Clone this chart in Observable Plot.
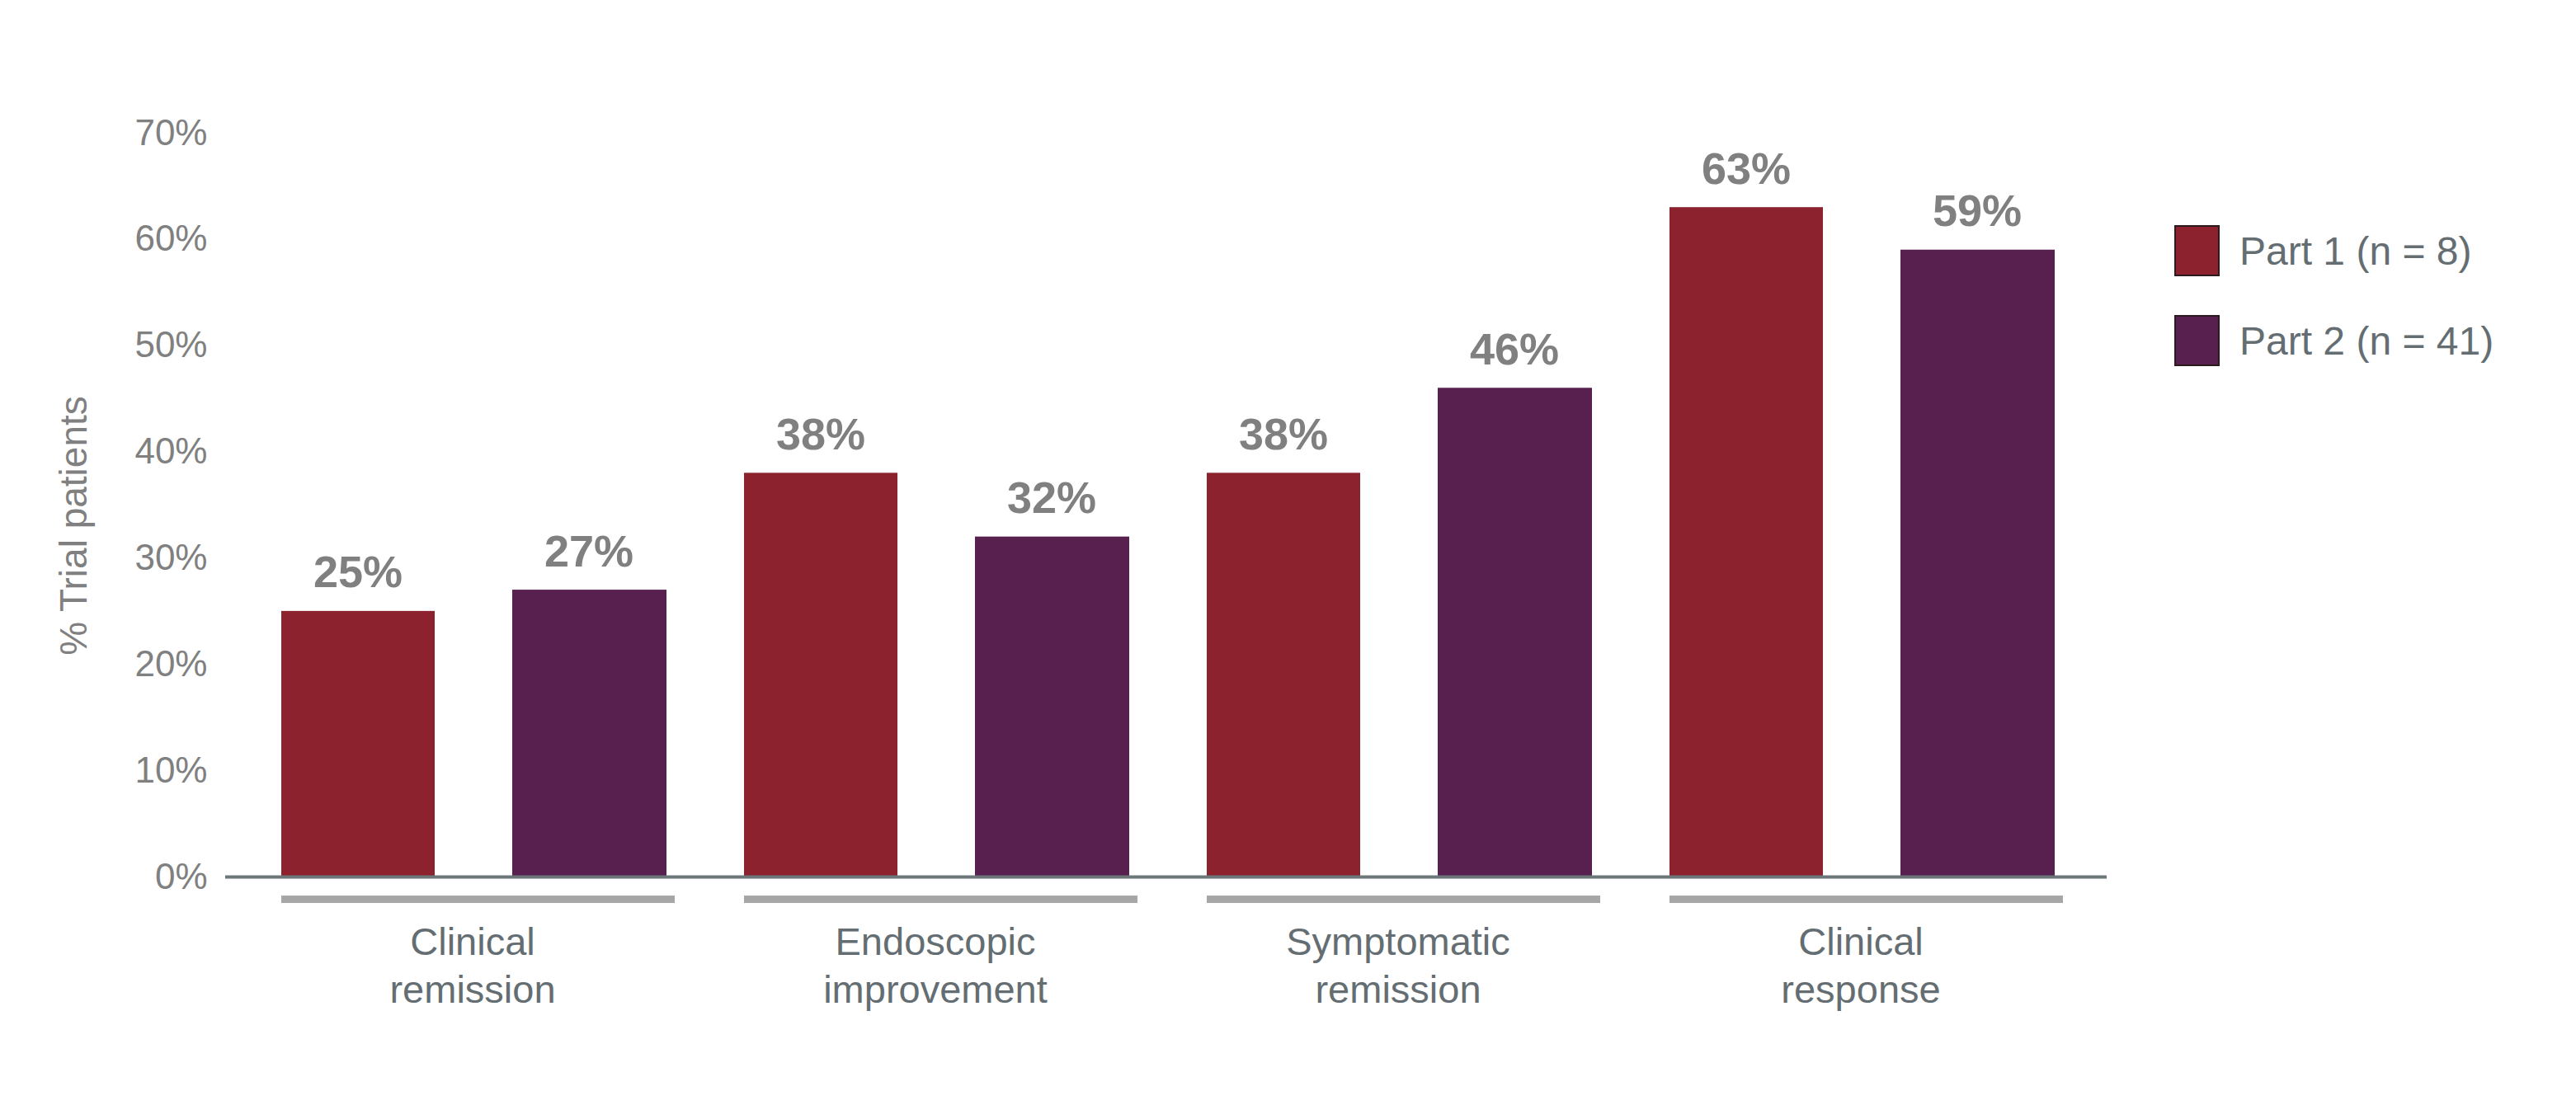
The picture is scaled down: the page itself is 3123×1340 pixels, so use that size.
<!DOCTYPE html>
<html>
<head>
<meta charset="utf-8">
<script src="https://cdn.jsdelivr.net/npm/d3@7"></script>
<script src="https://cdn.jsdelivr.net/npm/@observablehq/plot@0.6"></script>
<style>
  html, body { margin: 0; padding: 0; background: #ffffff; }
  #chart { position: relative; width: 3123px; height: 1340px; font-family: "Liberation Sans", Arial, sans-serif; }
  #legend { position: absolute; left: 2636px; top: 273px; }
  .item { display: flex; align-items: center; height: 62px; margin-bottom: 47px; }
  .swatch { width: 51px; height: 58px; border: 2px solid #2b1a1e; margin-right: 24px; }
  .label { font-size: 48px; color: #646e72; white-space: nowrap; }
</style>
</head>
<body>
<div id="chart"><div id="legend"></div></div>
<script>
// Outcome categories (two-line labels) and the two trial parts
const categories = ["Clinical\nremission", "Endoscopic\nimprovement", "Symptomatic\nremission", "Clinical\nresponse"];
const series = ["Part 1 (n = 8)", "Part 2 (n = 41)"];
const part1 = [25, 38, 38, 63];
const part2 = [27, 32, 46, 59];
const yTicks = [0, 10, 20, 30, 40, 50, 60, 70];
const colors = ["#8b222e", "#57204e"];
const yTitle = "% Trial patients";

const rows1 = categories.map((c, i) => ({category: c, series: series[0], value: part1[i]}));
const rows2 = categories.map((c, i) => ({category: c, series: series[1], value: part2[i]}));

const valueLabel = {
  x: "category",
  y: "value",
  text: d => `${d.value}%`,
  lineAnchor: "bottom",
  dy: -29,
  fontSize: 54,
  fontWeight: "bold",
  fill: "#808080"
};

const chart = Plot.plot({
  width: 3123,
  height: 1340,
  marginLeft: 273,
  marginRight: 569,
  marginTop: 161,
  marginBottom: 277,
  style: {fontFamily: "'Liberation Sans', Arial, sans-serif", background: "#ffffff"},
  x: {type: "band", domain: categories, paddingInner: 0, paddingOuter: 0.03},
  y: {domain: [0, 70]},
  color: {domain: series, range: colors},
  marks: [
    Plot.barY(rows1, {x: "category", y: "value", fill: "series", insetLeft: 49, insetRight: 326}),
    Plot.barY(rows2, {x: "category", y: "value", fill: "series", insetLeft: 329, insetRight: 45}),
    Plot.text(rows1, {...valueLabel, dx: -139}),
    Plot.text(rows2, {...valueLabel, dx: 141}),
    Plot.ruleY([0], {stroke: "#6b7778", strokeWidth: 4}),
    Plot.tickY(categories, {x: d => d, y: () => 0, dy: 27, stroke: "#a6a6a6", strokeWidth: 9, insetLeft: 49, insetRight: 35}),
    Plot.axisY({ticks: yTicks, tickFormat: d => `${d}%`, tickSize: 0, tickPadding: 22, fontSize: 44, color: "#808080", label: null}),
    Plot.axisX({tickSize: 0, tickPadding: 54, fontSize: 47, lineHeight: 1.22, color: "#646e72", label: null}),
    Plot.text([yTitle], {frameAnchor: "left", textAnchor: "middle", rotate: -90, dx: -183, dy: 25, fontSize: 46, fill: "#808080"})
  ]
});

const root = document.getElementById("chart");
root.insertBefore(chart, root.firstChild);

// Legend: one row per trial part
const legend = d3.select("#legend");
series.forEach((s, i) => {
  const item = legend.append("div").attr("class", "item");
  item.append("div").attr("class", "swatch").style("background", colors[i]);
  item.append("div").attr("class", "label").text(s);
});
</script>
</body>
</html>
